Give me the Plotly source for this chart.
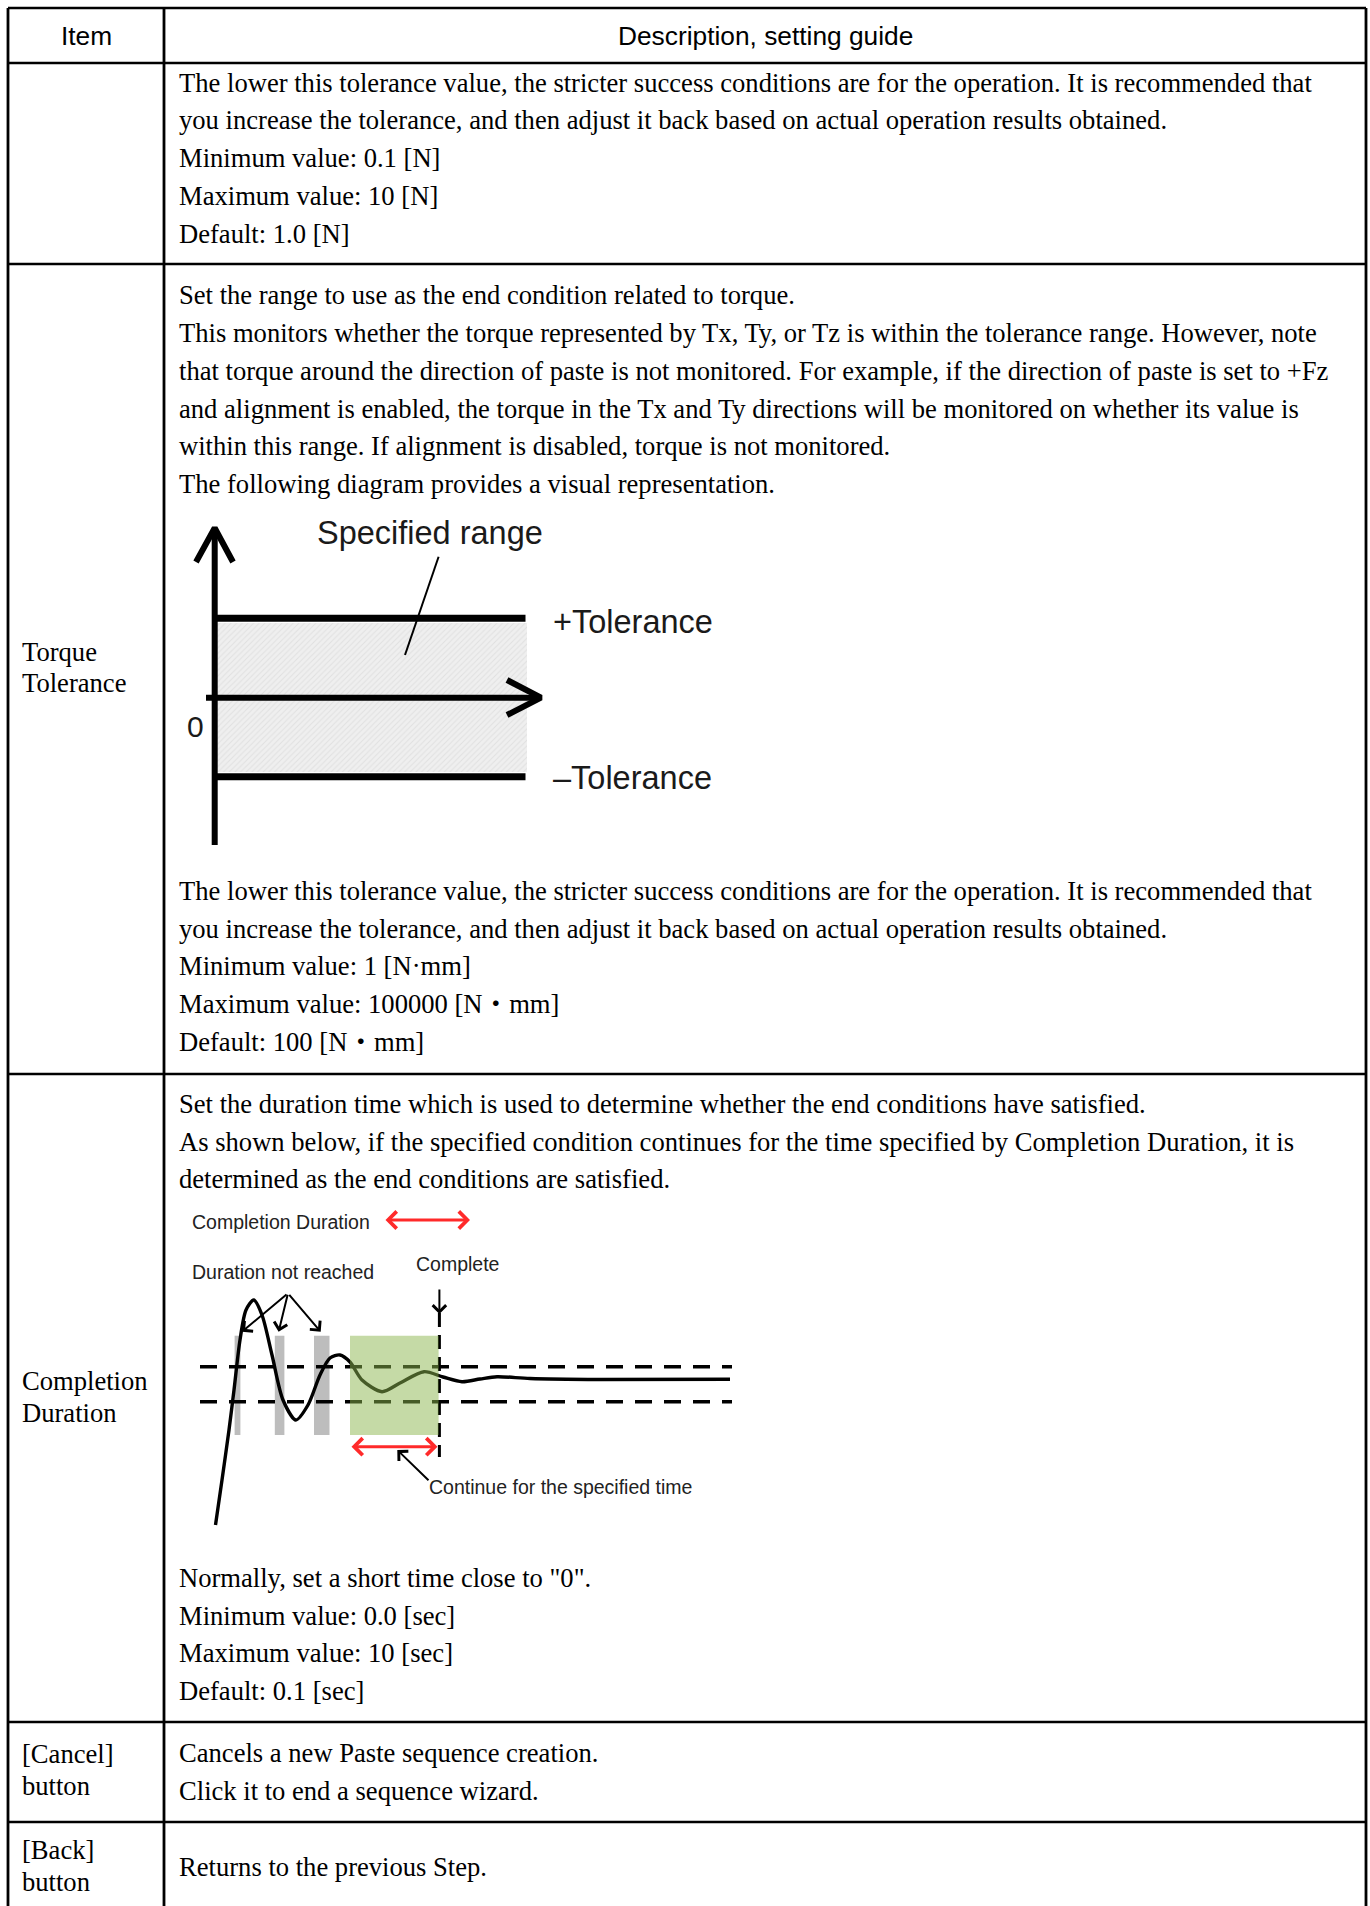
import plotly.graph_objects as go

W, H = 1370, 1906

# ---------------- table content ----------------
header_item = "Item"
header_desc = "Description, setting guide"

row1_lines = [
    "The lower this tolerance value, the stricter success conditions are for the operation. It is recommended that",
    "you increase the tolerance, and then adjust it back based on actual operation results obtained.",
    "Minimum value: 0.1 [N]",
    "Maximum value: 10 [N]",
    "Default: 1.0 [N]",
]
row2_label = ["Torque", "Tolerance"]
row2_lines_top = [
    "Set the range to use as the end condition related to torque.",
    "This monitors whether the torque represented by Tx, Ty, or Tz is within the tolerance range. However, note",
    "that torque around the direction of paste is not monitored. For example, if the direction of paste is set to +Fz",
    "and alignment is enabled, the torque in the Tx and Ty directions will be monitored on whether its value is",
    "within this range. If alignment is disabled, torque is not monitored.",
    "The following diagram provides a visual representation.",
]
row2_lines_bottom = [
    "The lower this tolerance value, the stricter success conditions are for the operation. It is recommended that",
    "you increase the tolerance, and then adjust it back based on actual operation results obtained.",
    "Minimum value: 1 [N·mm]",
    "Maximum value: 100000 [N・mm]",
    "Default: 100 [N・mm]",
]
row3_label = ["Completion", "Duration"]
row3_lines_top = [
    "Set the duration time which is used to determine whether the end conditions have satisfied.",
    "As shown below, if the specified condition continues for the time specified by Completion Duration, it is",
    "determined as the end conditions are satisfied.",
]
row3_lines_bottom = [
    'Normally, set a short time close to "0".',
    "Minimum value: 0.0 [sec]",
    "Maximum value: 10 [sec]",
    "Default: 0.1 [sec]",
]
row4_label = ["[Cancel]", "button"]
row4_lines = ["Cancels a new Paste sequence creation.", "Click it to end a sequence wizard."]
row5_label = ["[Back]", "button"]
row5_lines = ["Returns to the previous Step."]

# ---------------- diagram 1 (torque tolerance) ----------------
d1_labels = ["Specified range", "+Tolerance", "\u2013Tolerance", "0"]
d1_range_x = [217, 527, 527, 217, 217]
d1_range_y = [623, 623, 772, 772, 623]
d1_vaxis_x = [214.7, 214.7]
d1_vaxis_y = [845, 530]
d1_vhead_x = [196, 214.7, 233]
d1_vhead_y = [562, 528, 562]
d1_haxis_x = [206, 538]
d1_haxis_y = [697.7, 697.7]
d1_hhead_x = [507, 541, 507]
d1_hhead_y = [680, 697.7, 715]
d1_tol_x = [214.7, 525.5]
d1_tol_plus_y = [618.3, 618.3]
d1_tol_minus_y = [776.7, 776.7]
d1_leader_x = [438.6, 405]
d1_leader_y = [556.7, 655]

# ---------------- diagram 2 (completion duration) ----------------
d2_labels = ["Completion Duration", "Duration not reached", "Complete", "Continue for the specified time"]
d2_curve_x = [215.5, 222, 229, 234, 240, 246, 253.8, 262, 272, 283, 295.9, 308, 320, 330, 340,
              350, 362, 382, 400, 424, 443, 462, 480, 497, 530, 600, 730]
d2_curve_y = [1525, 1480, 1430, 1390, 1340, 1310, 1300, 1315, 1355, 1400, 1420, 1405, 1375, 1358, 1355,
              1362, 1380, 1391.7, 1383, 1371.7, 1377, 1381.7, 1379, 1376.7, 1378.5, 1379.5, 1379.3]
d2_band_x = [200, 732]
d2_band_upper_y = [1366.7, 1366.7]
d2_band_lower_y = [1401.7, 1401.7]
d2_complete_x = [439.4, 439.4]
d2_complete_y = [1313, 1457]
d2_grey_x0 = [234.6, 274.8, 314.0]
d2_grey_x1 = [240.4, 284.4, 329.5]
d2_grey_y = [1335.7, 1435]
d2_green_x = [350, 438.6]
d2_green_y = [1335.7, 1435]

# ---------------- table geometry ----------------
table_x = [8, 164, 1366]
table_y = [8, 63, 264, 1074, 1722, 1822]

SERIF = "Liberation Serif, Times New Roman, Noto Sans CJK JP, serif"
SANS = "Liberation Sans, Arial, sans-serif"
FS = 26.6
LS = 37.7
LLS = 31.6
TX = 176.5
LX = 19.5

fig = go.Figure()

# diagram 1 traces
fig.add_trace(go.Scatter(x=d1_range_x, y=d1_range_y, mode="lines", fill="toself",
                         line=dict(width=0, color="rgba(0,0,0,0)"),
                         fillcolor="#ececec",
                         fillpattern=dict(shape="/", fgcolor="#cfcfcf", bgcolor="#efefef",
                                          size=4, solidity=0.25),
                         hoverinfo="skip"))
for xs, ys, w in [(d1_vaxis_x, d1_vaxis_y, 6), (d1_vhead_x, d1_vhead_y, 6),
                  (d1_haxis_x, d1_haxis_y, 6), (d1_hhead_x, d1_hhead_y, 6),
                  (d1_tol_x, d1_tol_plus_y, 7), (d1_tol_x, d1_tol_minus_y, 7),
                  (d1_leader_x, d1_leader_y, 2)]:
    fig.add_trace(go.Scatter(x=xs, y=ys, mode="lines", line=dict(color="black", width=w),
                             hoverinfo="skip"))

# diagram 2 traces
for ys in (d2_band_upper_y, d2_band_lower_y):
    fig.add_trace(go.Scatter(x=d2_band_x, y=ys, mode="lines",
                             line=dict(color="black", width=3.5, dash="17px,12px"), hoverinfo="skip"))
fig.add_trace(go.Scatter(x=d2_complete_x, y=d2_complete_y, mode="lines",
                         line=dict(color="black", width=3, dash="14px,8px"), hoverinfo="skip"))
fig.add_trace(go.Scatter(x=d2_curve_x, y=d2_curve_y, mode="lines",
                         line=dict(color="black", width=3.4, shape="spline", smoothing=0.8),
                         hoverinfo="skip"))

shapes = []
for x0, x1 in zip(d2_grey_x0, d2_grey_x1):
    shapes.append(dict(type="rect", xref="x", yref="y", x0=x0, x1=x1, y0=d2_grey_y[0], y1=d2_grey_y[1],
                       fillcolor="#bdbdbd", line=dict(width=0), layer="below"))
shapes.append(dict(type="rect", xref="x", yref="y", x0=d2_green_x[0], x1=d2_green_x[1],
                   y0=d2_green_y[0], y1=d2_green_y[1],
                   fillcolor="rgba(140,182,78,0.5)", line=dict(width=0), layer="above"))

# table lines
for yv in table_y:
    shapes.append(dict(type="line", xref="x", yref="y", x0=table_x[0], x1=table_x[-1], y0=yv, y1=yv,
                       line=dict(color="black", width=2.6), layer="above"))
for xv in table_x:
    shapes.append(dict(type="line", xref="x", yref="y", x0=xv, x1=xv, y0=table_y[0], y1=H + 5,
                       line=dict(color="black", width=2.8), layer="above"))

ann = []


def txt(x, y, s, size=FS, family=SERIF, anchor="left", color="black"):
    ann.append(dict(x=x, y=y, xref="x", yref="y", text=s, showarrow=False, xanchor=anchor,
                    yanchor="middle", font=dict(size=size, family=family, color=color)))


def block(lines, y0, x=TX, step=LS):
    for i, s in enumerate(lines):
        txt(x, y0 + i * step, s)


# header
txt((table_x[0] + table_x[1]) / 2, 36, header_item, size=26.3, family=SANS, anchor="center")
txt((table_x[1] + table_x[2]) / 2, 36, header_desc, size=26.3, family=SANS, anchor="center")

block(row1_lines, 82.7)
block(row2_lines_top, 295.4)
block(row2_lines_bottom, 891)
block(row3_lines_top, 1103.8)
block(row3_lines_bottom, 1577.8)
block(row4_lines, 1752.9)
block(row5_lines, 1867.2)

block(row2_label, 651.6, LX, LLS)
block(row3_label, 1380.9, LX, LLS)
block(row4_label, 1754.1, LX, LLS)
block(row5_label, 1850.1, LX, LLS)

# diagram 1 labels
D1S = 32.5
txt(315, 533, d1_labels[0], size=D1S, family=SANS, color="#1a1a1a")
txt(551, 621.7, d1_labels[1], size=D1S, family=SANS, color="#1a1a1a")
txt(551, 778, d1_labels[2], size=D1S, family=SANS, color="#1a1a1a")
txt(195, 726.7, d1_labels[3], size=30, family=SANS, color="#1a1a1a", anchor="center")

# diagram 2 labels
DC = "#222222"
txt(190, 1222.3, d2_labels[0], size=19.5, family=SANS, color=DC)
txt(190, 1271.7, d2_labels[1], size=19.5, family=SANS, color=DC)
txt(414, 1264, d2_labels[2], size=19.5, family=SANS, color=DC)
txt(427, 1486.7, d2_labels[3], size=19.5, family=SANS, color=DC)


def arrow(x_tip, y_tip, x_tail, y_tail, color="black", width=2, size=1.3, both=False):
    a = dict(x=x_tip, y=y_tip, ax=x_tail, ay=y_tail, xref="x", yref="y", axref="x", ayref="y",
             text="", showarrow=True, arrowhead=4, arrowsize=size, arrowwidth=width,
             arrowcolor=color, standoff=0, startstandoff=0)
    if both:
        a.update(arrowside="end+start", startarrowhead=4, startarrowsize=size)
    ann.append(a)


RED = "#ff2a2a"
arrow(470, 1220, 384, 1220, color=RED, width=3, size=1.1, both=True)
arrow(437.5, 1446.7, 350, 1446.7, color=RED, width=3, size=1.1, both=True)
arrow(439.4, 1314, 439.4, 1288)
arrow(242, 1331.7, 288, 1293.3)
arrow(278.6, 1331.7, 288, 1293.3)
arrow(320.7, 1331.7, 288, 1293.3)
arrow(397.3, 1450, 430, 1481.7)

fig.update_layout(
    width=W, height=H,
    margin=dict(l=0, r=0, t=0, b=0),
    paper_bgcolor="white", plot_bgcolor="white",
    showlegend=False,
    xaxis=dict(range=[0, W], visible=False, fixedrange=True),
    yaxis=dict(range=[H, 0], visible=False, fixedrange=True),
    shapes=shapes,
    annotations=ann,
)

fig.write_html("out.html", config={"displayModeBar": False},
               post_script="document.body.style.margin='0';")
